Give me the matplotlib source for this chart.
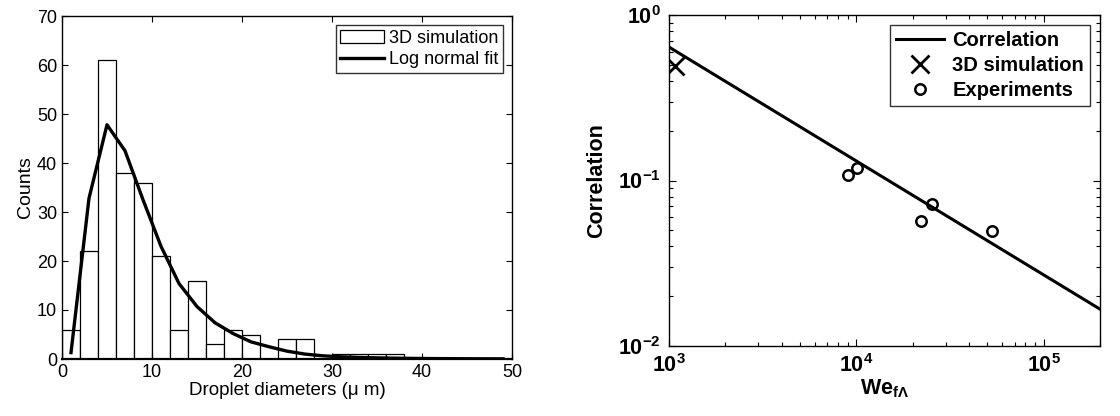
import numpy as np
import matplotlib.pyplot as plt
from matplotlib.ticker import FixedLocator, FuncFormatter, LogLocator, NullFormatter

plt.rcParams['font.family'] = ['Liberation Sans', 'DejaVu Sans']
plt.rcParams['mathtext.fontset'] = 'custom'
plt.rcParams['mathtext.rm'] = 'Liberation Sans'
plt.rcParams['mathtext.bf'] = 'Liberation Sans:bold'
plt.rcParams['mathtext.it'] = 'Liberation Sans:italic'

# histogram of droplet diameters (bin width 2 um)
bin_starts = [0, 2, 4, 6, 8, 10, 12, 14, 16, 18, 20, 22, 24, 26, 28, 30, 32, 34, 36]
counts = [6, 22, 61, 38, 36, 21, 6, 16, 3, 6, 5, 0, 4, 4, 0, 1, 1, 1, 1]

# log normal fit evaluated at bin centres
fit_x = [1, 3, 5, 7, 9, 11, 13, 15, 17, 19, 21, 23, 25, 27, 29, 31, 33, 35,
         37, 39, 41, 43, 45, 47, 49]
fit_y = [1.3, 32.8, 47.8, 42.5, 32.5, 23.0, 15.4, 10.7, 7.4, 5.2, 3.5, 2.5,
         1.6, 1.0, 0.65, 0.45, 0.32, 0.23, 0.17, 0.12, 0.09, 0.07, 0.05, 0.04, 0.03]

# correlation vs Weber number
we_line = [1e3, 2e5]
corr_line = [0.64, 0.0167]
we_sim = [1080]
corr_sim = [0.494]
we_exp = [9060, 10070, 22200, 25300, 53000]
corr_exp = [0.108, 0.119, 0.0567, 0.0724, 0.0497]

fig = plt.figure(figsize=(11.2, 4.16), dpi=100)
ax1 = fig.add_axes([62 / 1120, 1 - 359 / 416, 450 / 1120, 343 / 416])
ax2 = fig.add_axes([669 / 1120, 1 - 346 / 416, 431 / 1120, 331 / 416])

# left: histogram
bars = ax1.bar(bin_starts, counts, width=2, align='edge', facecolor='white',
               edgecolor='black', linewidth=0.9, label='3D simulation')
fit_line, = ax1.plot(fit_x, fit_y, color='black', linewidth=2.4, label='Log normal fit')
ax1.set_xlim(0, 50)
ax1.set_ylim(0, 70)
ax1.set_xticks(range(0, 51, 10))
ax1.set_yticks(range(0, 71, 10))
ax1.tick_params(direction='in', top=True, right=True, labelsize=13, length=4, width=0.8)
ax1.set_xlabel('Droplet diameters (μ m)', fontsize=13.5, labelpad=1)
ax1.set_ylabel('Counts', fontsize=14, labelpad=2)
for s in ax1.spines.values():
    s.set_linewidth(1.0)
ax1.spines['bottom'].set_linewidth(1.6)
leg1 = ax1.legend([bars, fit_line], ['3D simulation', 'Log normal fit'],
                  loc='upper right', fontsize=13, frameon=True, fancybox=False,
                  edgecolor='black', borderaxespad=0.5, handlelength=2.4,
                  handletextpad=0.3, borderpad=0.25, labelspacing=0.25)
leg1.get_frame().set_linewidth(1.0)

# right: correlation
ax2.loglog(we_line, corr_line, color='black', linewidth=2.2, label='Correlation')
ax2.plot(we_sim, corr_sim, linestyle='none', marker='x', markersize=13,
         markeredgewidth=2, color='black', label='3D simulation')
ax2.plot(we_exp, corr_exp, linestyle='none', marker='o', markersize=7.5,
         markeredgewidth=1.8, markerfacecolor='none', color='black', label='Experiments')
ax2.set_xlim(1e3, 2e5)
ax2.set_ylim(1e-2, 1)


def pow10(v, pos):
    e = int(round(np.log10(v)))
    return r'$\mathbf{10^{%d}}$' % e


ax2.xaxis.set_major_locator(FixedLocator([1e3, 1e4, 1e5]))
ax2.yaxis.set_major_locator(FixedLocator([1e-2, 1e-1, 1]))
ax2.xaxis.set_major_formatter(FuncFormatter(pow10))
ax2.yaxis.set_major_formatter(FuncFormatter(pow10))
ax2.xaxis.set_minor_locator(LogLocator(base=10, subs=np.arange(2, 10)))
ax2.yaxis.set_minor_locator(LogLocator(base=10, subs=np.arange(2, 10)))
ax2.xaxis.set_minor_formatter(NullFormatter())
ax2.yaxis.set_minor_formatter(NullFormatter())
ax2.tick_params(which='both', direction='in', top=True, right=True, width=0.8)
ax2.tick_params(which='major', length=5, labelsize=15.5, pad=6)
ax2.tick_params(which='minor', length=3)
ax2.set_xlabel(r'$\mathbf{We_{f\Lambda}}$', fontsize=15.5, labelpad=0)
ax2.set_ylabel('Correlation', fontsize=15.5, fontweight='bold', labelpad=8)
for s in ax2.spines.values():
    s.set_linewidth(1.0)
leg2 = ax2.legend(loc='upper right', prop={'size': 14.5, 'weight': 'bold'},
                  frameon=True, fancybox=False, edgecolor='black',
                  borderaxespad=0.5, handlelength=2.4, handletextpad=0.4,
                  borderpad=0.3, labelspacing=0.3)
leg2.get_frame().set_linewidth(1.0)

fig.savefig('out.png', dpi=100)
